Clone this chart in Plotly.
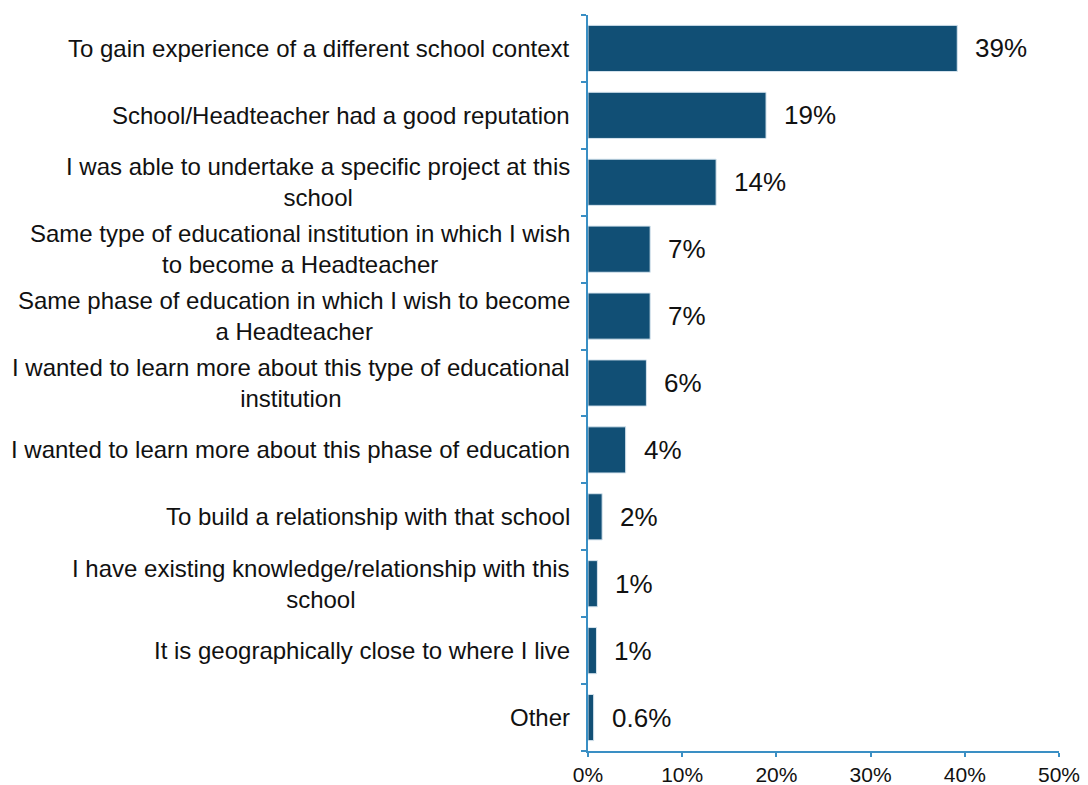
import plotly.graph_objects as go

categories = [
    "To gain experience of a different school context",
    "School/Headteacher had a good reputation",
    "I was able to undertake a specific project at this<br>school",
    "Same type of educational institution in which I wish<br>to become a Headteacher",
    "Same phase of education in which I wish to become<br>a Headteacher",
    "I wanted to learn more about this type of educational<br>institution",
    "I wanted to learn more about this phase of education",
    "To build a relationship with that school",
    "I have existing knowledge/relationship with this<br>school",
    "It is geographically close to where I live",
    "Other",
]
values = [39.2, 18.9, 13.6, 6.6, 6.6, 6.2, 4.0, 1.5, 1.0, 0.9, 0.6]
value_labels = ["39%", "19%", "14%", "7%", "7%", "6%", "4%", "2%", "1%", "1%", "0.6%"]
tick_vals = [0, 10, 20, 30, 40, 50]
tick_text = ["0%", "10%", "20%", "30%", "40%", "50%"]

bar_color = "#114f75"
axis_color = "#3a8fc4"
font_family = "Liberation Sans, Arial, sans-serif"

fig = go.Figure()
fig.add_trace(go.Bar(
    x=values,
    y=categories,
    orientation="h",
    marker=dict(color=bar_color, line=dict(color="#d6e4ee", width=1)),
    width=0.69,
    hoverinfo="skip",
))

annotations = []
# category labels (centred text, right-aligned block)
for cat in categories:
    annotations.append(dict(
        x=0, xref="paper", y=cat, yref="y",
        text=cat, showarrow=False,
        xanchor="right", yanchor="middle", align="center",
        xshift=-16,
        font=dict(family=font_family, size=24, color="#111111"),
    ))
# value labels
for cat, v, lab in zip(categories, values, value_labels):
    annotations.append(dict(
        x=v, xref="x", y=cat, yref="y",
        text=lab, showarrow=False,
        xanchor="left", yanchor="middle",
        xshift=16,
        font=dict(family=font_family, size=26, color="#111111"),
    ))

# page body has an 8px margin, so the figure is made a bit smaller
fig.update_layout(
    width=1080, height=777,
    margin=dict(l=580, r=29, t=7, b=34, autoexpand=False),
    plot_bgcolor="white", paper_bgcolor="white",
    showlegend=False,
    annotations=annotations,
    font=dict(family=font_family, color="#111111"),
)
fig.update_xaxes(
    range=[0, 50], automargin=False,
    tickvals=tick_vals, ticktext=tick_text,
    showgrid=False, zeroline=False,
    showline=True, linecolor=axis_color, linewidth=1.5,
    ticks="outside", tickcolor=axis_color, ticklen=4, tickwidth=1.5,
    tickfont=dict(size=21, family=font_family, color="#111111"),
)
fig.update_yaxes(
    categoryorder="array", categoryarray=categories[::-1],
    showticklabels=False, automargin=False,
    showgrid=False, zeroline=False,
    showline=True, linecolor=axis_color, linewidth=1.5,
    ticks="outside", tickson="boundaries", tickcolor=axis_color, ticklen=5, tickwidth=1.5,
)

fig.write_html("out.html")
